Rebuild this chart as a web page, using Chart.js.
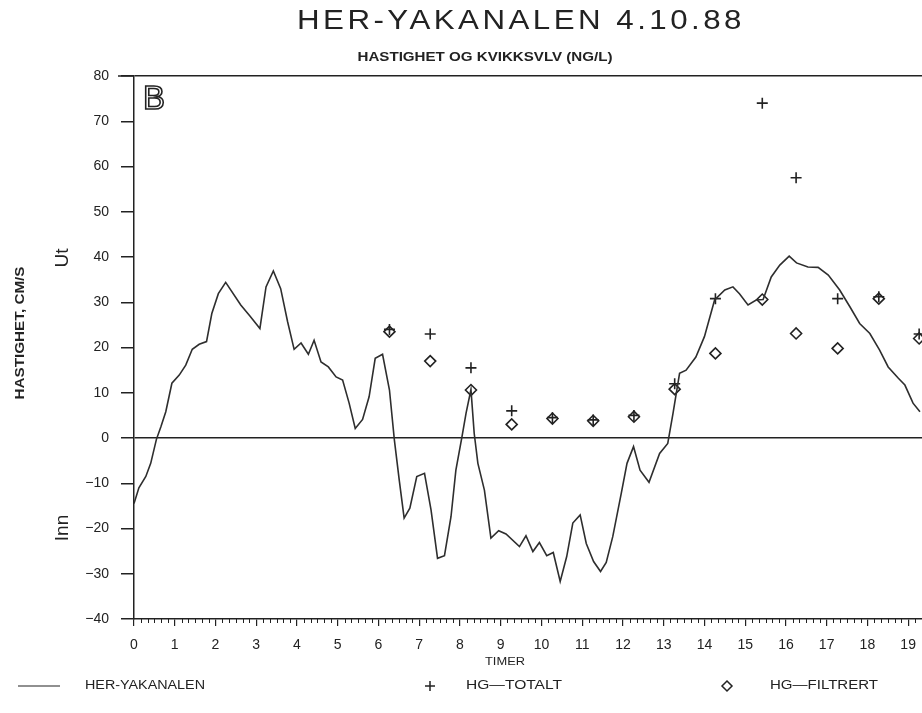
<!DOCTYPE html>
<html>
<head>
<meta charset="utf-8">
<script src="https://cdn.jsdelivr.net/npm/chart.js@4.4.0/dist/chart.umd.min.js"></script>
<style>
html, body { margin: 0; padding: 0; background: #fff; }
#wrap { width: 922px; height: 713px; }
</style>
</head>
<body>
<div id="wrap"><canvas id="myChart" width="922" height="713"></canvas></div>
<script>
// hastighet (cm/s) langs tid (timer)
var lineTimes = [0, 0.12, 0.29, 0.41, 0.55, 0.66, 0.78, 0.93, 1.11, 1.27, 1.43, 1.60, 1.78, 1.91, 2.07, 2.25,
    2.62, 2.84, 3.09, 3.24, 3.42, 3.60, 3.77, 3.93, 4.10, 4.28, 4.42, 4.59, 4.77, 4.96, 5.12, 5.28,
    5.43, 5.61, 5.77, 5.92, 6.10, 6.27, 6.39, 6.51, 6.63, 6.77, 6.94, 7.13, 7.29, 7.45, 7.62, 7.78,
    7.90, 8.05, 8.15, 8.27, 8.35, 8.44, 8.60, 8.76, 8.95, 9.13, 9.46, 9.62, 9.79, 9.95, 10.13, 10.29,
    10.46, 10.62, 10.77, 10.95, 11.10, 11.28, 11.45, 11.59, 11.75, 11.96, 12.10, 12.26, 12.42, 12.64,
    12.90, 13.10, 13.23, 13.39, 13.55, 13.79, 14.00, 14.25, 14.50, 14.70, 14.86, 15.07, 15.27, 15.44,
    15.64, 15.85, 16.08, 16.26, 16.54, 16.79, 17.04, 17.32, 17.57, 17.81, 18.06, 18.30, 18.51, 18.76,
    18.92, 19.12, 19.29];
var lineSpeed = [-14.5, -11, -8.5, -5.6, -0.3, 2.5, 5.8, 12.1, 13.9, 16.1, 19.6, 20.7, 21.3, 27.5, 31.9, 34.4,
    29.4, 27, 24.2, 33.4, 36.9, 33.0, 25.7, 19.6, 21.0, 18.5, 21.6, 16.8, 15.7, 13.5, 12.8, 7.7,
    2.1, 4.1, 9.1, 17.6, 18.5, 10.6, -0.4, -9.3, -17.7, -15.5, -8.5, -7.8, -15.9, -26.6, -26.0, -17.4,
    -7.1, 0.3, 5.5, 10.7, 1.0, -5.6, -11.5, -22.1, -20.5, -21.2, -24.0, -21.6, -25.1, -23.1, -26.0, -25.3,
    -31.7, -26.2, -18.8, -17.0, -23.3, -27.3, -29.5, -27.5, -21.8, -12.2, -5.6, -1.9, -7.1, -9.8,
    -3.4, -1.2, 5.5, 14.3, 15.0, 17.9, 22.4, 30.5, 32.7, 33.4, 31.9, 29.4, 30.5, 30.6,
    35.6, 38.2, 40.2, 38.7, 37.8, 37.7, 36.0, 32.7, 29.0, 25.3, 23.1, 19.4, 15.7, 13.2,
    11.7, 7.7, 5.8];

// kvikksolv-prover (ng/l)
var sampleTimes = [6.27, 7.27, 8.27, 9.27, 10.27, 11.27, 12.27, 13.27, 14.27, 15.42, 16.25, 17.27, 18.28, 19.27];
var hgTotalt = [24, 23, 15.5, 6, 4.5, 4, 5, 12, 30.8, 74, 57.5, 30.8, 31.2, 23];
var hgFiltrert = [23.5, 17, 10.6, 3, 4.3, 3.8, 4.7, 10.8, 18.7, 30.6, 23.1, 19.8, 30.8, 22];

var yTicks = [-40, -30, -20, -10, 0, 10, 20, 30, 40, 50, 60, 70, 80];
var xTicks = [0, 1, 2, 3, 4, 5, 6, 7, 8, 9, 10, 11, 12, 13, 14, 15, 16, 17, 18, 19];

var ink = '#222';
var fam = "'Liberation Sans', Arial, sans-serif";

function pts(xs, ys) {
    return xs.map(function (x, i) { return { x: x, y: ys[i] }; });
}

// draw text centred and stretched/spaced to a given width
function fitText(ctx, text, cx, cy, font, w, spacing) {
    ctx.save();
    ctx.font = font;
    if (spacing) ctx.letterSpacing = spacing + 'px';
    var m = ctx.measureText(text).width;
    ctx.translate(cx, cy);
    ctx.scale(w / m, 1);
    ctx.textAlign = 'center';
    ctx.textBaseline = 'middle';
    ctx.fillText(text, 0, 0);
    ctx.restore();
}

var extras = {
    id: 'extras',
    afterDraw: function (chart) {
        var ctx = chart.ctx;
        var xs = chart.scales.x;
        var bottom = chart.chartArea.bottom;
        ctx.save();
        ctx.strokeStyle = ink;
        ctx.fillStyle = ink;
        ctx.lineWidth = 1;

        // minor ticks every 10 min
        ctx.beginPath();
        for (var i = 1; i < xs.max * 6; i++) {
            if (i % 6 === 0) continue;
            var px = Math.round(xs.getPixelForValue(i / 6)) + 0.5;
            ctx.moveTo(px, bottom);
            ctx.lineTo(px, bottom + 4);
        }
        ctx.stroke();

        // longer tick at 80
        ctx.lineWidth = 1.5;
        ctx.beginPath();
        ctx.moveTo(118, chart.chartArea.top);
        ctx.lineTo(chart.chartArea.left, chart.chartArea.top);
        ctx.stroke();

        // titles
        fitText(ctx, 'HER-YAKANALEN 4.10.88', 521, 22, '27px ' + fam, 448, 3);
        fitText(ctx, 'HASTIGHET OG KVIKKSVLV (NG/L)', 485, 58, 'bold 12px ' + fam, 255);

        // panel letter
        ctx.font = '33px ' + fam;
        ctx.lineWidth = 1.6;
        ctx.textAlign = 'center';
        ctx.textBaseline = 'middle';
        ctx.strokeText('B', 154, 100);

        // rotated labels
        ctx.save();
        ctx.translate(63, 258);
        ctx.rotate(-Math.PI / 2);
        ctx.font = '19px ' + fam;
        ctx.fillText('Ut', 0, 0);
        ctx.restore();

        ctx.save();
        ctx.translate(63, 528);
        ctx.rotate(-Math.PI / 2);
        ctx.font = '19px ' + fam;
        ctx.fillText('Inn', 0, 0);
        ctx.restore();

        ctx.save();
        ctx.translate(21, 333);
        ctx.rotate(-Math.PI / 2);
        fitText(ctx, 'HASTIGHET, CM/S', 0, 0, 'bold 12px ' + fam, 133);
        ctx.restore();

        // x title
        fitText(ctx, 'TIMER', 505, 662, '11px ' + fam, 40);

        // legend
        var ly = 686;
        ctx.lineWidth = 1.2;
        ctx.beginPath();
        ctx.moveTo(18, ly);
        ctx.lineTo(60, ly);
        ctx.stroke();
        fitText(ctx, 'HER-YAKANALEN', 145, ly, '12px ' + fam, 120);

        ctx.lineWidth = 1.5;
        ctx.beginPath();
        ctx.moveTo(425, ly); ctx.lineTo(435, ly);
        ctx.moveTo(430, ly - 5); ctx.lineTo(430, ly + 5);
        ctx.stroke();
        fitText(ctx, 'HG\u2014TOTALT', 514, ly, '12px ' + fam, 96);

        ctx.beginPath();
        ctx.moveTo(727, ly - 5); ctx.lineTo(732, ly);
        ctx.lineTo(727, ly + 5); ctx.lineTo(722, ly);
        ctx.closePath();
        ctx.stroke();
        fitText(ctx, 'HG\u2014FILTRERT', 824, ly, '12px ' + fam, 108);

        ctx.restore();
    }
};

const ctx = document.getElementById('myChart').getContext('2d');
const myChart = new Chart(ctx, {
    type: 'line',
    data: {
        datasets: [{
            label: 'HER-YAKANALEN',
            data: pts(lineTimes, lineSpeed),
            borderColor: '#2e2e2e',
            borderWidth: 1.6,
            pointRadius: 0,
            tension: 0,
            fill: false
        }, {
            type: 'scatter',
            label: 'HG-TOTALT',
            data: pts(sampleTimes, hgTotalt),
            pointStyle: 'cross',
            pointRadius: 5.5,
            borderColor: ink,
            borderWidth: 1.6,
            backgroundColor: ink
        }, {
            type: 'scatter',
            label: 'HG-FILTRERT',
            data: pts(sampleTimes, hgFiltrert),
            pointStyle: 'rectRot',
            pointRadius: 5.5,
            borderColor: ink,
            borderWidth: 1.6,
            backgroundColor: '#fff'
        }]
    },
    options: {
        responsive: false,
        animation: false,
        layout: { autoPadding: false, padding: { top: 76, right: 0, bottom: 0, left: 0 } },
        plugins: {
            legend: { display: false },
            title: { display: false },
            tooltip: { enabled: false }
        },
        scales: {
            x: {
                type: 'linear',
                min: 0,
                max: 19.34,
                afterFit: function (s) {
                    s.height = 94;
                    s.paddingRight = 0;
                    s.paddingLeft = 0;
                },
                afterBuildTicks: function (s) {
                    s.ticks = xTicks.map(function (v) { return { value: v }; });
                },
                ticks: {
                    stepSize: 1,
                    includeBounds: false,
                    color: ink,
                    font: { family: fam, size: 14 },
                    padding: 11,
                    maxRotation: 0,
                    autoSkip: false
                },
                grid: { drawOnChartArea: false, tickLength: 7, color: ink, lineWidth: 1.2 },
                border: { display: true, color: ink, width: 1.5 }
            },
            y: {
                min: -40,
                max: 80,
                afterFit: function (s) { s.width = 134; },
                afterBuildTicks: function (s) {
                    s.ticks = yTicks.map(function (v) { return { value: v }; });
                },
                ticks: {
                    stepSize: 10,
                    color: ink,
                    font: { family: fam, size: 14 },
                    padding: 12,
                    callback: function (v) { return v < 0 ? '\u2212' + Math.abs(v) : String(v); }
                },
                grid: {
                    tickLength: 13,
                    tickColor: ink,
                    color: function (c) {
                        return (c.tick && (c.tick.value === 0 || c.tick.value === 80)) ? ink : 'rgba(0,0,0,0)';
                    },
                    lineWidth: 1.5
                },
                border: { display: true, color: ink, width: 1.5 }
            }
        }
    },
    plugins: [extras]
});
</script>
</body>
</html>
